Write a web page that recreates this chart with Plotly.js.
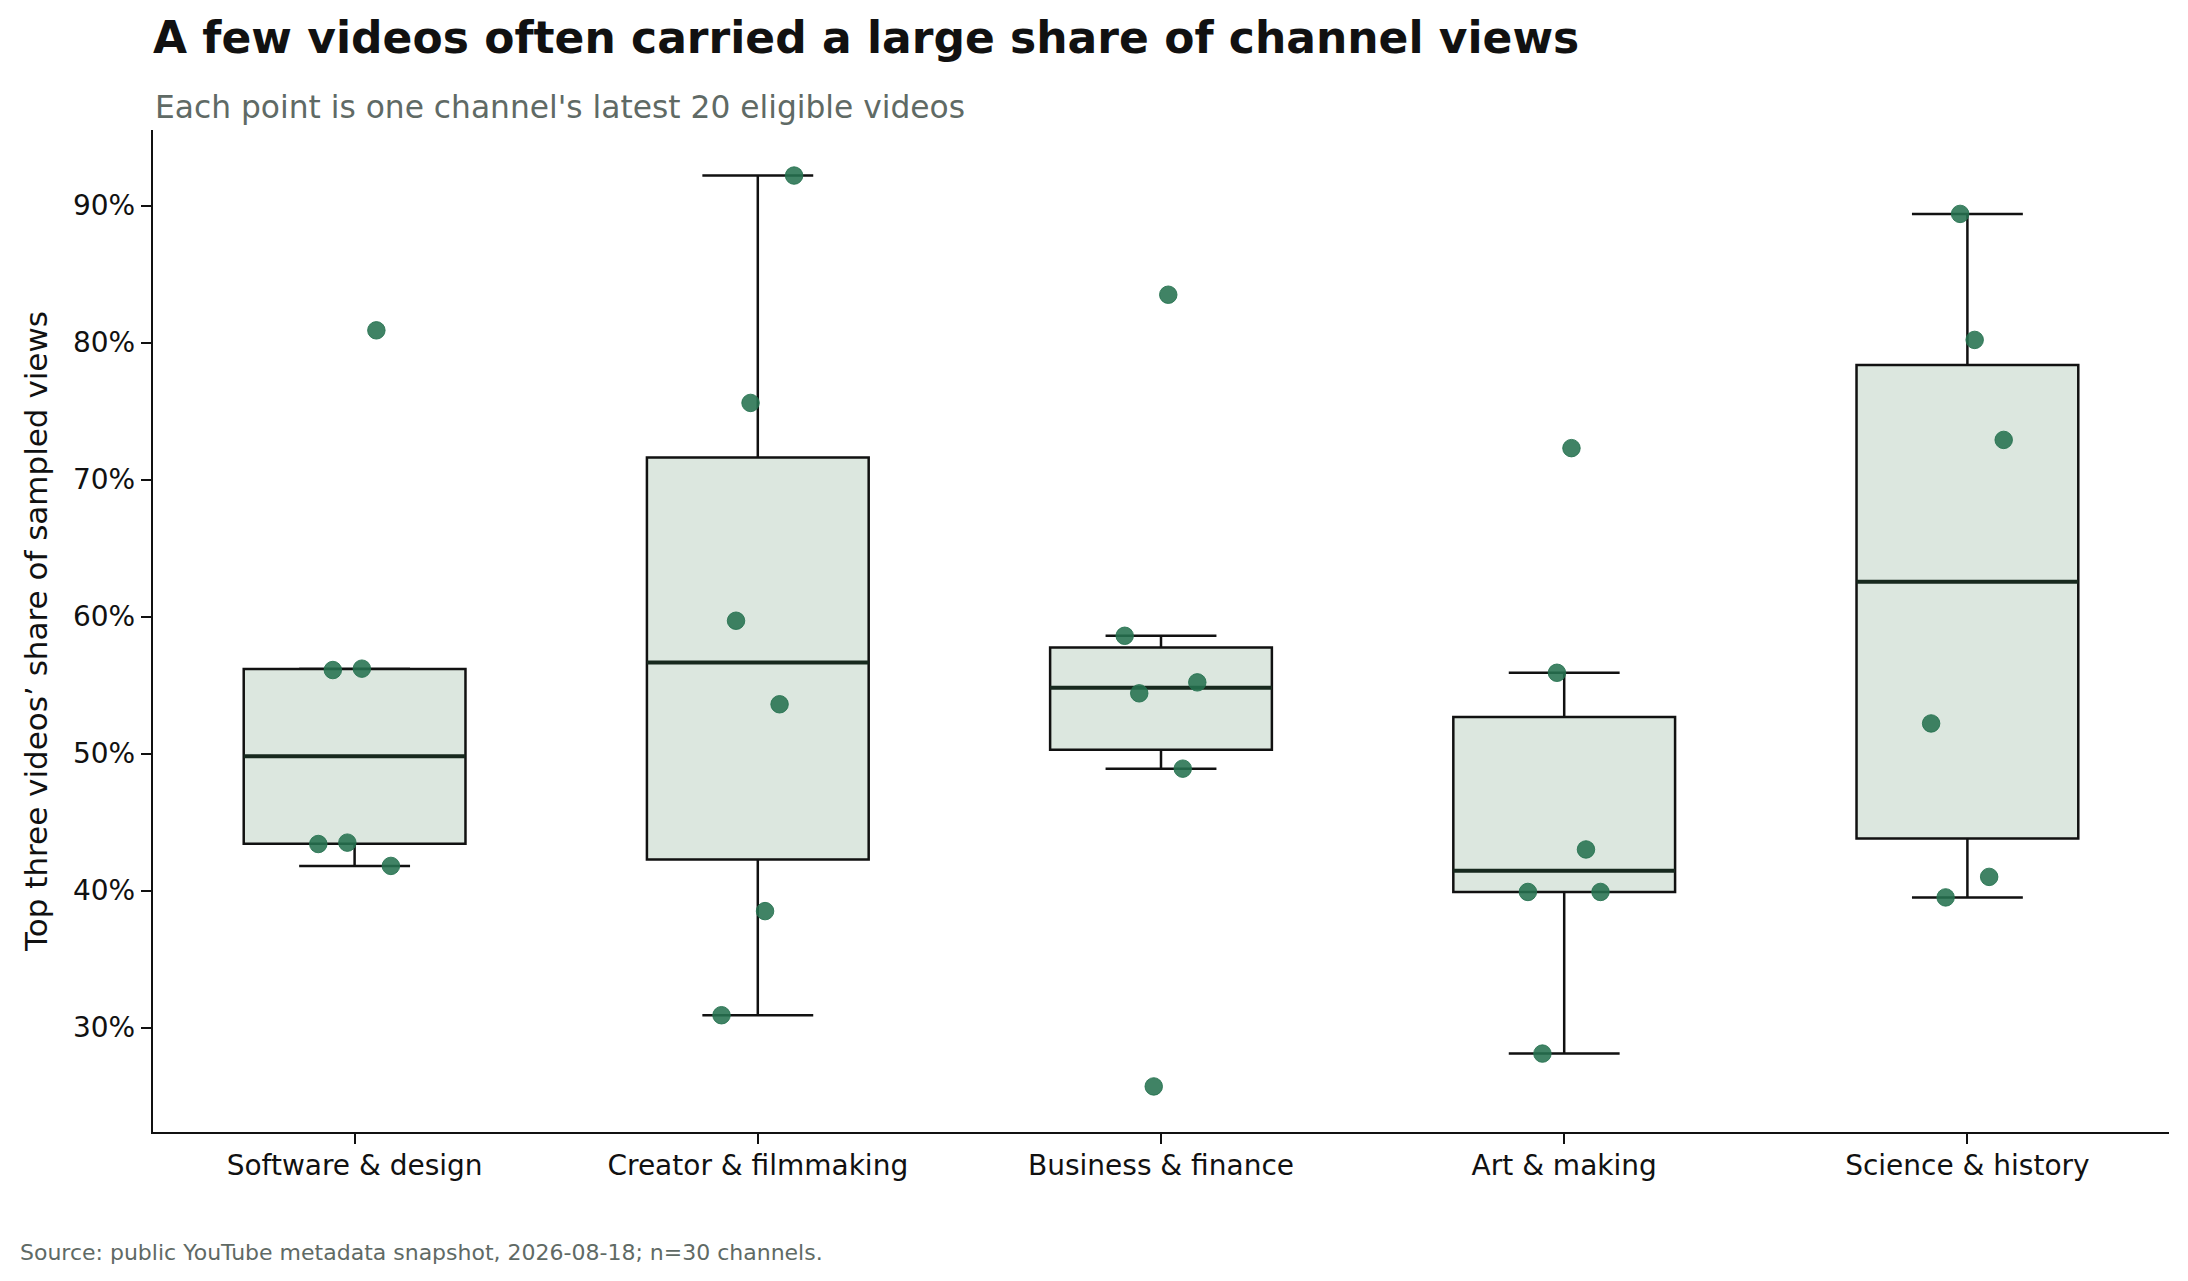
<!DOCTYPE html>
<html>
<head>
<meta charset="utf-8">
<script src="https://cdn.plot.ly/plotly-3.0.1.min.js"></script>
<style>html,body{margin:0;padding:0;background:#fff;}#chart{width:2188px;height:1281px;}</style>
</head>
<body>
<div id="chart"></div>
<script>
// ---- data ----
const categories = ["Software & design", "Creator & filmmaking", "Business & finance", "Art & making", "Science & history"];
const softwareDesign   = [80.9, 56.1, 56.2, 43.4, 43.5, 41.8];
const creatorFilm      = [92.2, 75.6, 59.7, 53.6, 38.5, 30.9];
const businessFinance  = [83.5, 58.6, 54.4, 55.2, 48.9, 25.7];
const artMaking        = [72.3, 55.9, 43.0, 39.9, 39.9, 28.1];
const scienceHistory   = [89.4, 80.2, 72.9, 52.2, 41.0, 39.5];
// horizontal jitter of each point (category units), same order as values
const jitterSoftware = [0.054, -0.054, 0.018, -0.09, -0.018, 0.09];
const jitterCreator  = [0.09, -0.018, -0.054, 0.054, 0.018, -0.09];
const jitterBusiness = [0.018, -0.09, -0.054, 0.09, 0.054, -0.018];
const jitterArt      = [0.018, -0.018, 0.054, -0.09, 0.09, -0.054];
const jitterScience  = [-0.018, 0.018, 0.09, -0.09, 0.054, -0.054];
const yTickVals = [30, 40, 50, 60, 70, 80, 90];
const yTickText = yTickVals.map(v => v + '%');

const groups = [softwareDesign, creatorFilm, businessFinance, artMaking, scienceHistory];
const jitters = [jitterSoftware, jitterCreator, jitterBusiness, jitterArt, jitterScience];

// ---- box statistics (numpy linear quantiles, 1.5 IQR whiskers) ----
function quant(sorted, p) {
  const pos = (sorted.length - 1) * p, lo = Math.floor(pos), hi = Math.ceil(pos);
  return sorted[lo] + (sorted[hi] - sorted[lo]) * (pos - lo);
}
const q1 = [], med = [], q3 = [], lowF = [], upF = [];
groups.forEach(g => {
  const s = g.slice().sort((a, b) => a - b);
  const a = quant(s, 0.25), m = quant(s, 0.5), b = quant(s, 0.75), iqr = b - a;
  q1.push(a); med.push(m); q3.push(b);
  lowF.push(Math.min(...s.filter(v => v >= a - 1.5 * iqr)));
  upF.push(Math.max(...s.filter(v => v <= b + 1.5 * iqr)));
});

const idx = categories.map((c, i) => i);
const BOXW = 0.55;

const boxTrace = {
  type: 'box', x: idx, q1: q1, median: med, q3: q3, lowerfence: lowF, upperfence: upF,
  width: BOXW, whiskerwidth: 0.5, fillcolor: '#dce7df',
  line: {color: '#111111', width: 2.5}, boxpoints: false, hoverinfo: 'skip', showlegend: false
};

const medX = [], medY = [];
idx.forEach(i => { medX.push(i - BOXW / 2, i + BOXW / 2, null); medY.push(med[i], med[i], null); });
const medianTrace = {
  type: 'scatter', mode: 'lines', x: medX, y: medY,
  line: {color: '#17291e', width: 4}, hoverinfo: 'skip', showlegend: false
};

const px = [], py = [];
groups.forEach((g, i) => g.forEach((v, k) => { px.push(i + jitters[i][k]); py.push(v); }));
const pointTrace = {
  type: 'scatter', mode: 'markers', x: px, y: py,
  marker: {size: 17.5, color: 'rgba(38,114,80,0.88)', line: {color: 'rgba(38,114,80,0.88)', width: 1}},
  hoverinfo: 'skip', showlegend: false
};

// y range: data range with 5% margins
const allV = [].concat(...groups);
const vmin = Math.min(...allV), vmax = Math.max(...allV), pad = (vmax - vmin) * 0.05;

const W = 2188, H = 1281, L = 153, R = 2169, T = 130, B = 1132;
const pxX = p => (p - L) / (R - L);
const pxY = p => (B - p) / (B - T);
const FONT = 'DejaVu Sans';

const layout = {
  width: W, height: H, autosize: false,
  margin: {l: L, r: W - R, t: T, b: H - B, pad: 0},
  paper_bgcolor: '#ffffff', plot_bgcolor: '#ffffff',
  font: {family: FONT, color: '#111111', size: 28},
  title: {
    text: '<b>A few videos often carried a large share of channel views</b>',
    font: {family: FONT, size: 44, color: '#111111'},
    xref: 'paper', x: 0, xanchor: 'left', yref: 'container', y: 1 - 22.5 / H, yanchor: 'top'
  },
  xaxis: {
    range: [-0.5, 4.5], tickvals: idx, ticktext: categories,
    showline: true, linecolor: '#111111', linewidth: 2.2, mirror: false,
    ticks: 'outside', ticklen: 10, tickwidth: 2, tickcolor: '#111111', ticklabelstandoff: -3,
    showgrid: false, zeroline: false, tickfont: {family: FONT, size: 28, color: '#111111'}
  },
  yaxis: {
    range: [vmin - pad, vmax + pad], tickvals: yTickVals, ticktext: yTickText,
    showline: true, linecolor: '#111111', linewidth: 2.2,
    ticks: 'outside', ticklen: 10, tickwidth: 2, tickcolor: '#111111',
    showgrid: false, zeroline: false, tickfont: {family: FONT, size: 28, color: '#111111'},
    title: {text: 'Top three videos’ share of sampled views', font: {family: FONT, size: 31, color: '#111111'}, standoff: 16}
  },
  annotations: [
    {text: "Each point is one channel's latest 20 eligible videos", xref: 'paper', yref: 'paper',
     x: 0, y: pxY(127), xanchor: 'left', yanchor: 'bottom', showarrow: false,
     font: {family: FONT, size: 31.3, color: '#5f6a65'}},
    {text: 'Source: public YouTube metadata snapshot, 2026-08-18; n=30 channels.', xref: 'paper', yref: 'paper',
     x: pxX(18), y: pxY(1267), xanchor: 'left', yanchor: 'bottom', showarrow: false,
     font: {family: FONT, size: 22, color: '#5f6a65'}}
  ],
  showlegend: false
};

Plotly.newPlot('chart', [boxTrace, medianTrace, pointTrace], layout, {staticPlot: true, displayModeBar: false});
</script>
</body>
</html>
